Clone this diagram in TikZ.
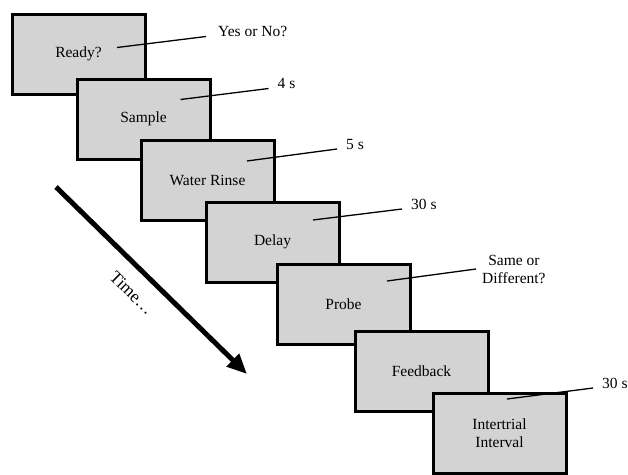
\documentclass[tikz,border=0pt]{standalone}
\usepackage{fontspec}
\setmainfont{Liberation Serif}
\usetikzlibrary{positioning, arrows.meta, calc}
\definecolor{screengray}{RGB}{211,211,211}
\tikzset{%
	screen/.style={draw, rectangle, line width=3pt, fill=screengray, minimum width=133pt,%
		minimum height=80pt, inner sep=0pt, outer sep=0pt, align=center},
	tag/.style={anchor=base west, inner sep=0pt, xshift=9pt},
	pointer/.style={line width=1.3pt},
	timeline/.style={line width=5pt, -{Triangle[length=20pt, width=17pt]}}
}
\begin{document}
\begin{tikzpicture}[x=1pt, y=1pt, font=\fontsize{15.5}{18}\selectfont]
			\useasboundingbox (0,0) rectangle (628,-474);
			\node[screen, anchor=north west] (ready) at (12,-14) {Ready?};
			\node[screen] (sample) [below right=-15pt and -68pt of ready] {Sample};
			\node[screen] (rinse) [below right=-19pt and -69pt of sample] {Water Rinse};
			\node[screen] (delay) [below right=-18pt and -68pt of rinse] {Delay};
			\node[screen] (probe) [below right=-18pt and -62pt of delay] {Probe};
			\node[screen] (feedback) [below right=-13pt and -55pt of probe] {Feedback};
			\node[screen] (iti) [below right=-18pt and -55pt of feedback] {Intertrial\\Interval};

			\coordinate (ready-a) at ($(ready.center)+(38.5,6.5)$);
			\coordinate (ready-b) at ($(ready-a)+(89,11)$);
			\coordinate (sample-a) at ($(sample.center)+(37,19.5)$);
			\coordinate (sample-b) at ($(sample-a)+(88,11)$);
			\coordinate (rinse-a) at ($(rinse.center)+(39.5,19)$);
			\coordinate (rinse-b) at ($(rinse-a)+(90,12)$);
			\coordinate (delay-a) at ($(delay.center)+(40.5,22)$);
			\coordinate (delay-b) at ($(delay-a)+(89,11)$);
			\coordinate (probe-a) at ($(probe.center)+(43.5,23)$);
			\coordinate (probe-b) at ($(probe-a)+(89,12)$);
			\coordinate (iti-a) at ($(iti.center)+(7.5,34)$);
			\coordinate (iti-b) at ($(iti-a)+(86,11)$);

			\node[tag, xshift=3pt] (ready-t) at (ready-b) {Yes or No?};
			\node[tag] (sample-t) at (sample-b) {4 s};
			\node[tag] (rinse-t) at (rinse-b) {5 s};
			\node[tag] (delay-t) at (delay-b) {30 s};
			\node[tag, anchor=west, xshift=-3pt, align=center] (probe-t) at (probe-b) {Same or\\Different?};
			\node[tag] (iti-t) at (iti-b) {30 s};

			\draw [pointer] (ready-a) -- (ready-b);
			\draw [pointer] (sample-a) -- (sample-b);
			\draw [pointer] (rinse-a) -- (rinse-b);
			\draw [pointer] (delay-a) -- (delay-b);
			\draw [pointer] (probe-a) -- (probe-b);
			\draw [pointer] (iti-a) -- (iti-b);

			\coordinate (t-from) at (56,-187);
			\coordinate (t-to) at (247,-374);
			\draw [timeline] (t-from) -- node[sloped, below=11pt, pos=0.48,%
				font=\fontsize{17.5}{20}\selectfont] (time) {Time…} (t-to);
		\end{tikzpicture}
\end{document}
